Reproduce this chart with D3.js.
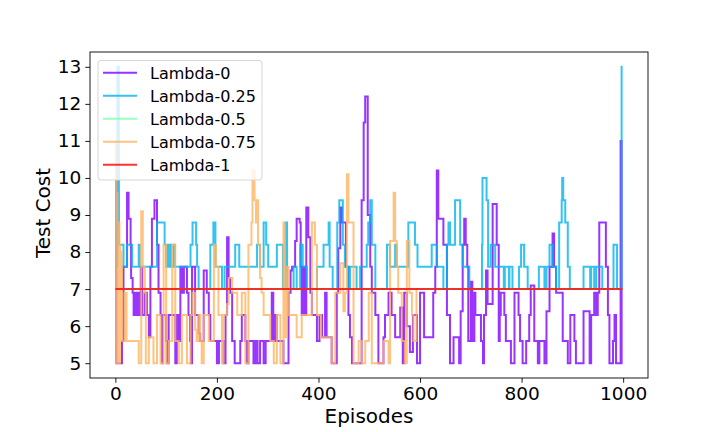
<!DOCTYPE html>
<html>
<head>
<meta charset="utf-8">
<script src="https://cdn.jsdelivr.net/npm/d3@7"></script>
<style>
  body { margin: 0; background: #fff; }
  svg { font-family: "DejaVu Sans", sans-serif; }
</style>
</head>
<body>
<svg></svg>
<script>
// [episode, cost] change points, each value holds until the next episode listed
let lambda0Points = [
  [0, 11], [2, 5], [13, 5.6], [16, 7.6], [23, 9.6], [26, 8.9], [30, 8.2], [31, 7.3], [34, 6.9], [36, 6.3],
  [38, 6.9], [40, 6.3], [43, 6.9], [46, 6.3], [50, 7.6], [53, 6.3], [58, 6.9], [62, 6.3], [66, 5.7], [69, 7.6],
  [72, 8.9], [77, 9.4], [82, 8.2], [85, 6.9], [89, 6.3], [92, 5], [93, 6.3], [100, 5.6], [102, 5], [105, 6.3],
  [118, 5], [121, 6.3], [125, 5.6], [128, 7.6], [132, 6.9], [135, 7.6], [141, 6.9], [144, 6.3], [147, 5.6], [149, 5],
  [151, 7.6], [157, 6.3], [164, 5.8], [167, 5.6], [174, 7.5], [180, 6.9], [184, 6.3], [187, 5.6], [200, 5], [204, 5.6],
  [213, 5], [217, 6.3], [220, 8.4], [223, 7.3], [226, 6.9], [230, 5.6], [235, 5], [246, 5.6], [249, 6.3], [256, 5.6],
  [259, 5], [262, 5.6], [272, 5], [276, 5.6], [280, 5], [285, 5.6], [292, 5], [296, 5.6], [308, 6.9], [311, 5.6],
  [315, 6.3], [318, 5.6], [331, 5], [341, 6.9], [345, 7.5], [348, 7.6], [354, 8.3], [357, 8.9], [363, 8.8], [365, 7.6],
  [367, 6.3], [370, 7.6], [373, 6.3], [376, 9.2], [380, 8.4], [384, 6.9], [387, 6.3], [397, 5.6], [402, 6.3], [407, 5.7],
  [413, 6.9], [416, 5.7], [426, 5], [436, 6.9], [439, 8.1], [443, 9.2], [446, 8.8], [454, 7.6], [459, 6.3], [462, 5.7],
  [466, 5], [485, 9.4], [489, 11.5], [492, 12.2], [497, 9], [502, 7.6], [505, 6.9], [512, 6.3], [518, 5], [528, 5.7],
  [531, 6.3], [538, 6.9], [544, 6.3], [551, 5.7], [561, 6.5], [566, 5], [569, 6.9], [574, 6], [580, 5.3], [586, 6.3],
  [594, 5], [600, 6.9], [608, 5.7], [626, 6.9], [630, 7.6], [633, 10.2], [636, 8.9], [646, 8.2], [653, 6.3], [659, 5],
  [666, 5.7], [677, 5], [680, 6.4], [684, 8.2], [687, 8.9], [690, 8.2], [693, 7.6], [695, 5.6], [700, 7.2], [703, 5.6],
  [707, 6.9], [709, 6.3], [720, 5.6], [724, 5], [726, 6.3], [730, 7.5], [733, 6.6], [743, 9.3], [751, 8.2], [755, 5.6],
  [757, 6.3], [759, 6.9], [766, 6.3], [769, 5.6], [779, 5], [786, 6.9], [794, 6.3], [797, 5.6], [802, 5], [809, 5.6],
  [815, 6.3], [818, 7.1], [825, 5.6], [832, 5], [835, 5.6], [845, 5], [849, 6.4], [855, 7.6], [861, 8.5], [864, 7.6],
  [868, 6.9], [881, 5.6], [891, 5], [896, 6.3], [904, 5.6], [907, 5], [922, 6.4], [934, 5], [937, 6.3], [943, 6.9],
  [947, 6.3], [950, 6.9], [953, 8.8], [966, 7.6], [970, 6.3], [973, 5], [980, 5.6], [983, 6.3], [986, 5], [995, 11],
  [997, 5], [999, 5]
]
let lambda025Points = [
  [0, 7.6], [4, 13], [7, 8.2], [16, 7.6], [23, 8.2], [33, 7.6], [46, 8.2], [48, 7.6], [82, 8.8], [97, 8.2],
  [100, 7.6], [102, 8.2], [104, 7.6], [108, 8.2], [110, 7.6], [115, 8.2], [117, 7.6], [148, 8.2], [152, 8.8], [159, 8.2],
  [161, 7.6], [164, 7], [187, 8.2], [193, 8.8], [197, 7.6], [210, 7], [215, 7.6], [236, 8.2], [244, 7.6], [279, 8.2],
  [285, 7.6], [292, 8.8], [297, 8.2], [301, 7.6], [318, 8.2], [330, 7], [335, 8.8], [338, 7], [351, 7.6], [357, 7],
  [364, 8.2], [369, 7.6], [377, 7], [397, 7.6], [410, 8.2], [420, 8.8], [422, 7.6], [428, 7], [437, 8.8], [441, 9.4],
  [448, 8.2], [452, 7.6], [459, 7], [462, 7.6], [475, 7], [482, 7.6], [495, 8.2], [498, 8.8], [502, 9.4], [505, 8.2],
  [512, 7], [535, 8.2], [541, 7.6], [551, 8.2], [554, 7.6], [577, 8.8], [590, 8.2], [595, 7.6], [623, 8.2], [633, 7.6],
  [646, 7], [653, 8.2], [656, 8.8], [659, 8.2], [669, 9.4], [679, 8.2], [684, 7.6], [697, 7], [722, 8.2], [723, 10],
  [731, 9.4], [734, 7.6], [739, 8.2], [748, 7.6], [765, 7], [767, 7.6], [775, 7], [776, 7.6], [782, 7], [795, 7.6],
  [799, 8.2], [805, 7.6], [812, 7], [834, 7.6], [845, 7], [849, 7.6], [855, 8.2], [861, 7.6], [868, 7], [874, 8.8],
  [879, 9.4], [880, 10], [882, 9.4], [886, 8.8], [891, 7.6], [895, 7], [922, 7.6], [935, 7], [937, 7.6], [943, 7],
  [947, 7.6], [959, 7], [981, 8.2], [988, 7], [997, 13], [999, 13]
]
let lambda05Points = [[0, 7], [999, 7]]
let lambda075Points = [
  [0, 10.3], [1, 11], [2, 5], [3, 9.6], [4, 5], [5, 8.2], [6, 5.6], [7, 8.8], [8, 5], [9, 8.2],
  [10, 6.3], [11, 8], [12, 7.6], [13, 5.6], [18, 6.9], [22, 5.6], [46, 5], [51, 9.1], [54, 7.6], [58, 6.9],
  [60, 5], [66, 5.7], [75, 5], [82, 6.3], [89, 5], [95, 8.2], [100, 5], [105, 5.6], [112, 8.2], [118, 5.6],
  [125, 5], [131, 6.3], [141, 5], [148, 6.3], [152, 6.9], [157, 5.9], [160, 5.6], [164, 6.3], [167, 5.6], [170, 5],
  [174, 6.3], [184, 5.6], [194, 8.2], [198, 7.6], [203, 6.3], [210, 5], [213, 6.3], [220, 6.6], [223, 7.3], [230, 6.9],
  [240, 6.3], [249, 6.9], [256, 5], [262, 8.2], [268, 8.8], [270, 10.2], [274, 9.4], [277, 8.8], [279, 9.4], [281, 8.2],
  [285, 7.3], [288, 6.9], [292, 6.3], [305, 5.6], [312, 5], [318, 6.3], [325, 5], [331, 8.8], [334, 5.7], [337, 7.6],
  [341, 6.3], [357, 5.7], [367, 6.3], [387, 8.8], [393, 8.2], [397, 6.3], [405, 5.7], [426, 5], [433, 6.9], [443, 7.7],
  [449, 6.4], [452, 6.9], [456, 10.1], [459, 8.8], [469, 5], [479, 5.6], [485, 5], [492, 5.6], [499, 6.9], [505, 5],
  [528, 5.6], [538, 5], [541, 8.3], [548, 9.6], [551, 8.3], [554, 7.6], [557, 6.9], [564, 5.6], [570, 5], [574, 8.3],
  [579, 6.9], [584, 6.3], [587, 5.6], [593, 7], [597, 7]
]
let lambda1Points = [[0, 7], [999, 7]]

let seriesNames = ['Lambda-0', 'Lambda-0.25', 'Lambda-0.5', 'Lambda-0.75', 'Lambda-1']
let seriesPoints = [lambda0Points, lambda025Points, lambda05Points, lambda075Points, lambda1Points]
let seriesColors = ['#8000ff', '#00b4ec', '#80ffb4', '#ffb462', '#ff0000']

let xTicks = [0, 200, 400, 600, 800, 1000]
let yTicks = [5, 6, 7, 8, 9, 10, 11, 12, 13]

let width = 720
let height = 432
let plotLeft = 90, plotRight = 648, plotTop = 52, plotBottom = 378
let svg = d3.select('svg')

let drawCanvas = () => {
    svg.attr('width', width)
    svg.attr('height', height)
    svg.append('rect').attr('width', width).attr('height', height).attr('fill', '#fff')
}

let xScale, yScale
let generateScales = () => {
    xScale = d3.scaleLinear()
        .domain([-49.95, 1048.95])
        .range([plotLeft, plotRight])
    yScale = d3.scaleLinear()
        .domain([4.6, 13.4])
        .range([plotBottom, plotTop])
}

let drawLines = () => {
    svg.append('clipPath')
        .attr('id', 'plot-area')
        .append('rect')
        .attr('x', plotLeft).attr('y', plotTop)
        .attr('width', plotRight - plotLeft).attr('height', plotBottom - plotTop)
    let line = d3.line()
        .x((d) => xScale(d[0]))
        .y((d) => yScale(d[1]))
        .curve(d3.curveStepAfter)
    svg.append('g')
        .attr('clip-path', 'url(#plot-area)')
        .selectAll('path')
        .data(seriesPoints)
        .enter()
        .append('path')
        .attr('d', (d) => line(d))
        .attr('fill', 'none')
        .attr('stroke', (d, i) => seriesColors[i])
        .attr('stroke-opacity', 0.8)
        .attr('stroke-width', 2)
}

let generateAxes = () => {
    let xAxis = d3.axisBottom(xScale).tickValues(xTicks).tickFormat(d3.format('d')).tickSize(4.7).tickPadding(4)
    let yAxis = d3.axisLeft(yScale).tickValues(yTicks).tickFormat(d3.format('d')).tickSize(4.7).tickPadding(4)
    let gx = svg.append('g')
        .attr('id', 'x-axis')
        .attr('transform', 'translate(0,' + plotBottom + ')')
        .call(xAxis)
    let gy = svg.append('g')
        .attr('id', 'y-axis')
        .attr('transform', 'translate(' + plotLeft + ',0)')
        .call(yAxis)
    ;[gx, gy].forEach((g) => {
        g.select('.domain').remove()
        g.selectAll('.tick line').attr('stroke', '#000').attr('stroke-width', 0.9)
        g.selectAll('.tick text')
            .attr('fill', '#000')
            .style('font-size', '18.5px')
            .style('font-family', '"DejaVu Sans", sans-serif')
    })
    svg.append('rect')
        .attr('x', plotLeft).attr('y', plotTop)
        .attr('width', plotRight - plotLeft).attr('height', plotBottom - plotTop)
        .attr('fill', 'none')
        .attr('stroke', '#000')
        .attr('stroke-width', 0.9)
    svg.append('text')
        .attr('x', (plotLeft + plotRight) / 2)
        .attr('y', 423)
        .attr('text-anchor', 'middle')
        .style('font-size', '20px')
        .text('Episodes')
    svg.append('text')
        .attr('transform', 'translate(50,213) rotate(-90)')
        .attr('text-anchor', 'middle')
        .style('font-size', '20px')
        .text('Test Cost')
}

let drawLegend = () => {
    let legend = svg.append('g').attr('id', 'legend')
    legend.append('rect')
        .attr('x', 98).attr('y', 60.5)
        .attr('width', 164).attr('height', 119.5)
        .attr('rx', 3)
        .attr('fill', '#fff')
        .attr('fill-opacity', 0.8)
        .attr('stroke', '#d6d6d6')
    let rows = legend.selectAll('g.row')
        .data(seriesNames)
        .enter()
        .append('g')
        .attr('class', 'row')
        .attr('transform', (d, i) => 'translate(0,' + (72.7 + i * 23) + ')')
    rows.append('line')
        .attr('x1', 103).attr('x2', 137)
        .attr('stroke', (d, i) => seriesColors[i])
        .attr('stroke-opacity', 0.8)
        .attr('stroke-width', 2)
    rows.append('text')
        .attr('x', 150)
        .attr('y', 5.8)
        .style('font-size', '16px')
        .attr('fill', '#000')
        .text((d) => d)
}

drawCanvas()
generateScales()
drawLines()
generateAxes()
drawLegend()
</script>
</body>
</html>
